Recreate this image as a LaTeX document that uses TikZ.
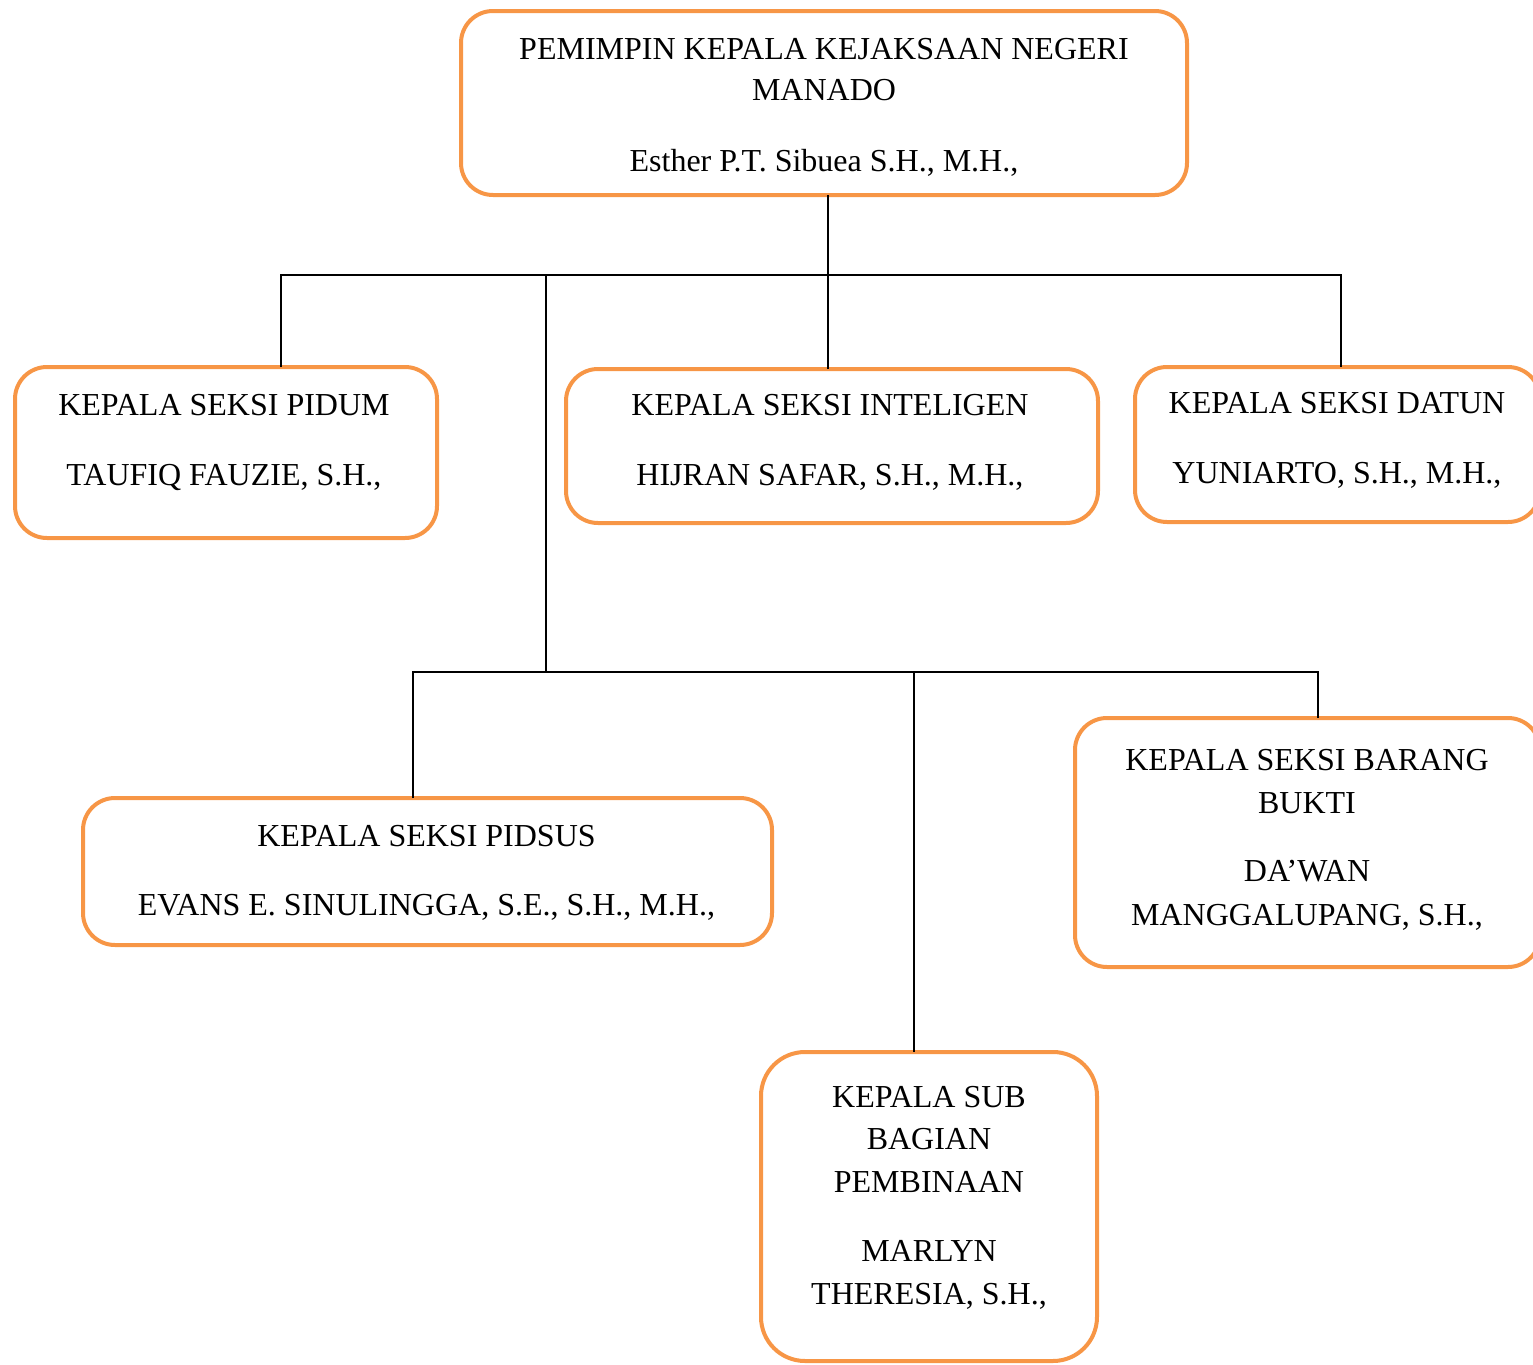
\documentclass[tikz,border=0pt]{standalone}
\usepackage{fontspec}
\setmainfont{Liberation Serif}
\definecolor{boxorange}{HTML}{F79646}
\begin{document}
\begin{tikzpicture}[x=0.5pt,y=-0.5pt,
  box/.style n args={2}{draw=boxorange, line width=2pt, rounded corners=16pt,
    inner sep=0pt, outer sep=0pt, minimum width=#1*0.5pt, minimum height=#2*0.5pt},
  txt/.style={anchor=base, inner sep=0pt, font=\fontsize{16}{19}\selectfont},
  conn/.style={draw=black, line width=1pt}]
\useasboundingbox (0,0) rectangle (1533,1365);
% boxes
\node[box={726}{184}] (top) at (824,103) {};
\node[box={422}{171}] (pidum) at (226,452.5) {};
\node[box={532}{154}] (intel) at (832,446) {};
\node[box={405}{155}] (datun) at (1337.5,444.5) {};
\node[box={689}{147}] (pidsus) at (427.5,871.5) {};
\node[box={465}{249}] (barang) at (1307.5,842.5) {};
\node[box={336}{309}, rounded corners=22pt] (sub) at (929,1206.5) {};
% junction coordinates
\coordinate (j0) at (828,275);
\coordinate (hL) at (281,275);
\coordinate (hR) at (1341,275);
\coordinate (jm) at (546,275);
\coordinate (k0) at (546,672);
\coordinate (kL) at (413,672);
\coordinate (kR) at (1318,672);
\coordinate (kM) at (914,672);
% connectors
\draw[conn] (j0 |- top.south) -- (j0);
\draw[conn] (hL |- pidum.north) -- (hL) -- (hR) -- (hR |- datun.north);
\draw[conn] (j0) -- (j0 |- intel.north);
\draw[conn] (jm) -- (k0);
\draw[conn] (kL |- pidsus.north) -- (kL) -- (kR) -- (kR |- barang.north);
\draw[conn] (kM) -- (kM |- sub.north);
% texts
\node[txt] (t0a) at (824,60) {PEMIMPIN KEPALA KEJAKSAAN NEGERI};
\node[txt] (t0b) at (824,100) {MANADO};
\node[txt] (t0c) at (824,171) {Esther P.T. Sibuea S.H., M.H.,};
\node[txt] (t1a) at (224,415) {KEPALA SEKSI PIDUM};
\node[txt] (t1b) at (224,485) {TAUFIQ FAUZIE, S.H.,};
\node[txt] (t2a) at (830,415) {KEPALA SEKSI INTELIGEN};
\node[txt] (t2b) at (830,485) {HIJRAN SAFAR, S.H., M.H.,};
\node[txt] (t3a) at (1337,413) {KEPALA SEKSI DATUN};
\node[txt] (t3b) at (1337,483) {YUNIARTO, S.H., M.H.,};
\node[txt] (t4a) at (426.5,846) {KEPALA SEKSI PIDSUS};
\node[txt] (t4b) at (426.5,915) {EVANS E. SINULINGGA, S.E., S.H., M.H.,};
\node[txt] (t5a) at (1307,770) {KEPALA SEKSI BARANG};
\node[txt] (t5b) at (1307,813) {BUKTI};
\node[txt] (t5c) at (1307,881) {DA’WAN};
\node[txt] (t5d) at (1307,925) {MANGGALUPANG, S.H.,};
\node[txt] (t6a) at (929,1107) {KEPALA SUB};
\node[txt] (t6b) at (929,1149) {BAGIAN};
\node[txt] (t6c) at (929,1192) {PEMBINAAN};
\node[txt] (t6d) at (929,1261) {MARLYN};
\node[txt] (t6e) at (929,1304) {THERESIA, S.H.,};
\end{tikzpicture}
\end{document}
